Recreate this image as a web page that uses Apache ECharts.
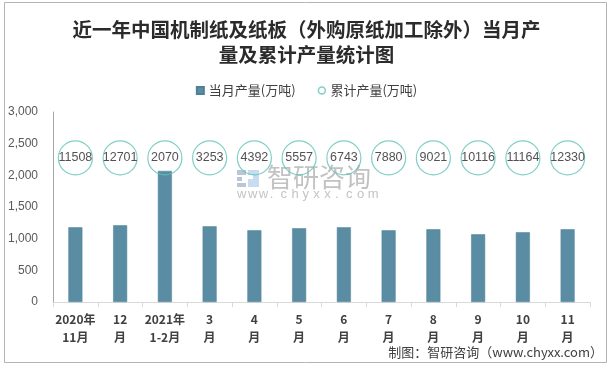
<!DOCTYPE html>
<html>
<head>
<meta charset="utf-8">
<script src="https://cdn.jsdelivr.net/npm/echarts@6/dist/echarts.min.js"></script>
<style>
html,body{margin:0;padding:0;background:#fff;}
#c{width:613px;height:367px;}
</style>
</head>
<body>
<div id="c"></div>
<script>
// ---- data ----
var categories = ['2020年\n11月', '12\n月', '2021年\n1-2月', '3\n月', '4\n月', '5\n月', '6\n月', '7\n月', '8\n月', '9\n月', '10\n月', '11\n月'];
var monthlyOutput = [1179, 1211, 2070, 1195, 1132, 1164, 1179, 1132, 1148, 1069, 1101, 1148];
var cumulativeOutput = [11508, 12701, 2070, 3253, 4392, 5557, 6743, 7880, 9021, 10116, 11164, 12330];
var yTicks = [0, 500, 1000, 1500, 2000, 2500, 3000];
var seriesNames = ['当月产量(万吨)', '累计产量(万吨)'];

// ---- style constants ----
var CIRCLE_LEVEL = 2275; // height (on the primary axis) where the cumulative circles sit
var barColor = '#5a8da4';
var circleColor = '#62c3b9';
var FONT = '"Noto Sans CJK SC", "Liberation Sans", sans-serif';

var chart = echarts.init(document.getElementById('c'), null, {renderer: 'canvas'});

// watermark graphics
var wm = [];
var wmChars = 'www.chyxx.com'.split('');
for (var i = 0; i < wmChars.length; i++) {
  wm.push({type: 'text', left: 237 + i * 10.9, top: 188, silent: true, z: 0,
    style: {text: wmChars[i], fill: '#c4c4c4', font: '13px "Liberation Sans", sans-serif'}});
}
wm.push({type: 'text', left: 267, top: 164, silent: true, z: 0,
  style: {text: '智研咨询', fill: '#c2c2c2', font: '26px "Noto Sans CJK SC", sans-serif'}});
// simple logo approximation
wm.push({type: 'rect', shape: {x: 237, y: 170, width: 9, height: 5}, style: {fill: '#b9c6d8'}, silent: true, z: 0});
wm.push({type: 'rect', shape: {x: 237, y: 177, width: 5, height: 4}, style: {fill: '#b9c6d8'}, silent: true, z: 0});
wm.push({type: 'rect', shape: {x: 237, y: 183, width: 9, height: 4}, style: {fill: '#b9c6d8'}, silent: true, z: 0});
wm.push({type: 'rect', shape: {x: 248, y: 170, width: 11, height: 5}, style: {fill: '#c7dcf0'}, silent: true, z: 0});
wm.push({type: 'rect', shape: {x: 253, y: 175, width: 6, height: 4}, style: {fill: '#c7dcf0'}, silent: true, z: 0});
wm.push({type: 'rect', shape: {x: 248, y: 179, width: 11, height: 4}, style: {fill: '#c7dcf0'}, silent: true, z: 0});
wm.push({type: 'rect', shape: {x: 248, y: 183, width: 11, height: 4}, style: {fill: '#c7dcf0'}, silent: true, z: 0});

var graphics = [
  {type: 'rect', shape: {x: 4.5, y: 2.5, width: 602, height: 360}, style: {fill: 'none', stroke: '#b3b3b3', lineWidth: 1}, silent: true, z: -1},
  {type: 'text', right: 10, top: 346, silent: true,
    style: {text: '制图：智研咨询（www.chyxx.com）', fill: '#404040', font: '13px ' + FONT}}
].concat(wm);

var option = {
  animation: false,
  backgroundColor: '#ffffff',
  title: {
    text: '近一年中国机制纸及纸板（外购原纸加工除外）当月产\n量及累计产量统计图',
    left: 'center',
    top: 12,
    textStyle: {fontFamily: FONT, fontSize: 19.5, fontWeight: 'bold', color: '#2b2b2b', lineHeight: 25}
  },
  legend: {
    top: 79,
    left: 'center',
    itemGap: 22,
    itemWidth: 7,
    itemHeight: 7,
    textStyle: {fontFamily: FONT, fontSize: 13, color: '#404040'},
    data: [
      {name: seriesNames[0], icon: 'rect', itemStyle: {color: barColor}},
      {name: seriesNames[1], icon: 'circle', itemStyle: {color: '#ffffff', borderColor: circleColor, borderWidth: 1.5}}
    ]
  },
  grid: {left: 53, right: 23, top: 112, bottom: 65, containLabel: false},
  xAxis: {
    type: 'category',
    data: categories,
    boundaryGap: true,
    axisLine: {show: true, lineStyle: {color: '#d9d9d9', width: 1}},
    axisTick: {show: true, length: 5, lineStyle: {color: '#d9d9d9'}},
    axisLabel: {interval: 0, margin: 8, fontFamily: FONT, fontSize: 12, fontWeight: 'bold', color: '#404040', lineHeight: 18}
  },
  yAxis: {
    type: 'value',
    min: yTicks[0],
    max: yTicks[yTicks.length - 1],
    interval: yTicks[1] - yTicks[0],
    axisLine: {show: true, lineStyle: {color: '#a6a6a6', width: 1}},
    axisTick: {show: false},
    splitLine: {show: false},
    axisLabel: {
      margin: 15, fontFamily: '"Liberation Sans", sans-serif', fontSize: 12, color: '#595959',
      formatter: function (v) { return v.toLocaleString('en-US'); }
    }
  },
  series: [
    {
      name: seriesNames[0],
      type: 'bar',
      data: monthlyOutput,
      barWidth: 14,
      itemStyle: {color: barColor, borderColor: '#4f8096', borderWidth: 0.5},
      z: 2
    },
    {
      name: seriesNames[1],
      type: 'scatter',
      data: cumulativeOutput.map(function (v, i) { return {value: [i, CIRCLE_LEVEL], total: v}; }),
      symbol: 'circle',
      symbolSize: 34,
      itemStyle: {color: 'rgba(255,255,255,0)', borderColor: circleColor, borderWidth: 1.2},
      label: {
        show: true, position: 'inside',
        formatter: function (p) { return String(cumulativeOutput[p.dataIndex]); },
        fontFamily: '"Liberation Sans", sans-serif', fontSize: 12.5, color: '#262626'
      },
      z: 3
    }
  ],
  graphic: graphics
};
chart.setOption(option);
</script>
</body>
</html>
